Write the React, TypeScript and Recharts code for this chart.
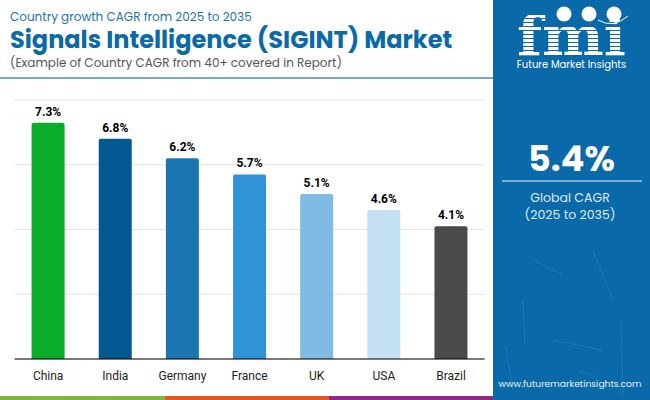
import React from 'react';
import { BarChart, Bar, Cell, XAxis, YAxis, CartesianGrid, LabelList } from 'recharts';

const countries = ['China', 'India', 'Germany', 'France', 'UK', 'USA', 'Brazil'];
const cagr = [7.3, 6.8, 6.2, 5.7, 5.1, 4.6, 4.1];
const barColors = ['#0aad2a', '#03598f', '#1a75b0', '#3093d6', '#7fbbe2', '#c3e1f2', '#4a4a4a'];
const yTicks = [0, 2, 4, 6, 8];

const data = countries.map((name, i) => ({ name, value: cagr[i] }));

const HEAD = 'Poppins, "Open Sans", "Noto Sans", sans-serif';
const BLUE = '#0a69a8';

function Logo() {
  // rough fmi mark: serif letters with stripes cut through, three globes on top
  const stripes = [14, 18, 22, 26, 30, 34, 38, 42, 46, 50];
  return (
    <svg width={157} height={80} style={{ position: 'absolute', left: 493, top: 0 }}>
      <text x={24} y={55} fontFamily="DejaVu Serif" fontWeight={700} fontSize={54} fill="#fff" textLength={109} lengthAdjust="spacingAndGlyphs">
        fmi
      </text>
      {stripes.map((y) => (
        <rect key={y} x={20} y={y} width={118} height={1} fill={BLUE} />
      ))}
      <circle cx={71} cy={14} r={7.5} fill="#fff" />
      <circle cx={96} cy={14} r={7.5} fill="#fff" />
      <circle cx={121} cy={14} r={7.5} fill="#fff" />
      <path d="M 105 20 Q 120 29 135 16" stroke="#fff" fill="none" strokeWidth={1} />
    </svg>
  );
}

function PanelTexture() {
  // faint scratches in the lower part of the side panel
  const scratches = ['M 30 300 L 32 345', 'M 60 340 L 110 350', 'M 128 320 L 130 395', 'M 12 345 L 20 390', 'M 100 250 L 120 300', 'M 40 260 L 70 275', 'M 85 372 L 100 374'];
  return (
    <svg width={157} height={400} style={{ position: 'absolute', left: 493, top: 0 }}>
      {scratches.map((d) => (
        <path key={d} d={d} stroke="#3f8cc0" strokeWidth={0.6} fill="none" opacity={0.6} />
      ))}
    </svg>
  );
}

export default function App() {
  return (
    <div style={{ position: 'fixed', left: 0, top: 0, width: 650, height: 400, background: '#fff', overflow: 'hidden' }}>
      <BarChart
        width={650}
        height={400}
        data={data}
        barSize={33}
        margin={{ top: 100, right: 165.4, bottom: 0, left: 14.6 }}
        style={{ position: 'absolute', left: 0, top: 0 }}
      >
        <CartesianGrid vertical={false} stroke="#e4e4e4" />
        <YAxis hide domain={[0, 8]} ticks={yTicks} />
        <XAxis
          dataKey="name"
          interval={0}
          height={41}
          tickLine={false}
          tickMargin={6}
          axisLine={{ stroke: '#000', strokeWidth: 1 }}
          tick={{ fill: '#222', fontSize: 12, fontFamily: 'Roboto' }}
        />
        <Bar dataKey="value" radius={[2, 2, 0, 0]} isAnimationActive={false}>
          {countries.map((c, i) => (
            <Cell key={c} fill={barColors[i]} />
          ))}
          <LabelList
            dataKey="value"
            position="top"
            offset={7}
            formatter={(v: number) => v + '%'}
            style={{ fill: '#000', fontSize: 12, fontWeight: 700, fontFamily: 'Roboto' }}
          />
        </Bar>
      </BarChart>

      <div style={{ position: 'absolute', left: 10, top: 9, fontFamily: HEAD, fontSize: 12, lineHeight: '16px', color: '#1a75b0', whiteSpace: 'nowrap' }}>
        Country growth CAGR from 2025 to 2035
      </div>
      <div style={{ position: 'absolute', left: 10, top: 26, fontFamily: HEAD, fontSize: 24, lineHeight: '28px', fontWeight: 700, color: '#0a69a8', whiteSpace: 'nowrap' }}>
        Signals Intelligence (SIGINT) Market
      </div>
      <div style={{ position: 'absolute', left: 10, top: 55, fontFamily: HEAD, fontSize: 12, lineHeight: '16px', color: '#555', whiteSpace: 'nowrap' }}>
        (Example of Country CAGR from 40+ covered in Report)
      </div>
      <div style={{ position: 'absolute', left: 0, top: 77, width: 493, height: 2, background: '#7ba6cc' }} />

      <div style={{ position: 'absolute', left: 0, top: 396, width: 165, height: 4, background: '#84b642' }} />
      <div style={{ position: 'absolute', left: 165, top: 396, width: 164, height: 4, background: '#e2562a' }} />
      <div style={{ position: 'absolute', left: 329, top: 396, width: 164, height: 4, background: '#8a2a86' }} />

      <div style={{ position: 'absolute', left: 493, top: 0, width: 157, height: 400, background: BLUE }} />
      <PanelTexture />
      <Logo />
      <div style={{ position: 'absolute', left: 493, top: 57, width: 157, textAlign: 'center', fontFamily: HEAD, fontSize: 10, color: '#fff' }}>
        Future Market Insights
      </div>
      <div style={{ position: 'absolute', left: 493, top: 132, width: 157, textAlign: 'center', fontFamily: HEAD, fontSize: 35, fontWeight: 700, color: '#fff' }}>
        5.4%
      </div>
      <div style={{ position: 'absolute', left: 502, top: 180, width: 140, height: 2, background: '#7fb0d8' }} />
      <div style={{ position: 'absolute', left: 490, top: 189, width: 160, textAlign: 'center', fontFamily: HEAD, fontSize: 12.5, lineHeight: '17px', color: '#dcebf6' }}>
        Global CAGR
        <br />
        (2025 to 2035)
      </div>
      <div style={{ position: 'absolute', left: 493, top: 377, width: 154, textAlign: 'center', fontFamily: HEAD, fontSize: 9.2, color: '#e6f0f8', whiteSpace: 'nowrap' }}>
        www.futuremarketinsights.com
      </div>
    </div>
  );
}
